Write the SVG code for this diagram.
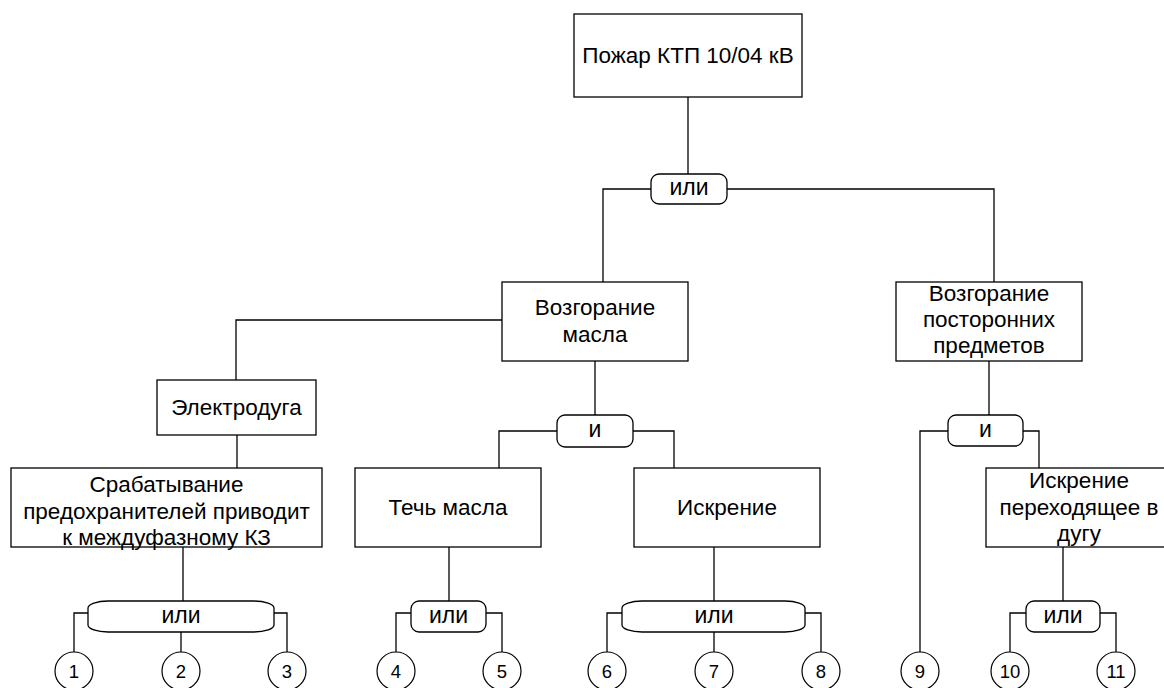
<svg xmlns="http://www.w3.org/2000/svg" width="1164" height="688" viewBox="0 0 1164 688">
<style>
.box{fill:#fff;stroke:#000;stroke-width:1.3}
.gate{fill:#fff;stroke:#000;stroke-width:1.3}
.conn path{fill:none;stroke:#000;stroke-width:1.3}
.c{fill:#fff;stroke:#000;stroke-width:1.2}
text{font-family:"Liberation Sans",Arial,sans-serif;font-size:22.5px;fill:#000;text-anchor:middle}
.g{font-size:23px}
.n{font-size:18.5px}
</style>
<rect width="1164" height="688" fill="#fff"/>
<g id="connectors" class="conn">
<path d="M688,97 V174"/>
<path d="M651,189 H603 V282"/>
<path d="M727,189 H994 V282"/>
<path d="M502,320 H236 V380"/>
<path d="M237,435 V468"/>
<path d="M595,361 V415"/>
<path d="M557,431 H499 V468"/>
<path d="M633,431 H674 V468"/>
<path d="M183,547 V601"/>
<path d="M88,613 H74 V652"/>
<path d="M181,632 V652"/>
<path d="M274,613 H287 V652"/>
<path d="M449,547 V601"/>
<path d="M411,613 H396 V652"/>
<path d="M486,613 H502 V652"/>
<path d="M714,547 V601"/>
<path d="M622,613 H607 V652"/>
<path d="M714,632 V652"/>
<path d="M805,613 H821 V652"/>
<path d="M989,361 V415"/>
<path d="M948,431 H920 V652"/>
<path d="M1023,431 H1039 V468"/>
<path d="M1063,547 V601"/>
<path d="M1026,613 H1010 V652"/>
<path d="M1100,613 H1116 V652"/>
</g>
<g id="top">
<rect class="box" x="574" y="14" width="228" height="83"/>
<text x="688" y="63">Пожар КТП 10/04 кВ</text>
</g>
<g id="gate-or-top">
<rect class="gate" x="651" y="174" width="76" height="30" rx="8"/>
<text class="g" x="689" y="195">или</text>
</g>
<g id="oil-fire">
<rect class="box" x="502" y="282" width="186" height="79"/>
<text x="595" y="315">Возгорание</text>
<text x="595" y="342">масла</text>
</g>
<g id="foreign-fire">
<rect class="box" x="896" y="282" width="186" height="79"/>
<text x="989" y="301">Возгорание</text>
<text x="989" y="327">посторонних</text>
<text x="989" y="353">предметов</text>
</g>
<g id="arc">
<rect class="box" x="157" y="380" width="159" height="55"/>
<text x="236.5" y="415">Электродуга</text>
</g>
<g id="fuse">
<rect class="box" x="11" y="468" width="311" height="79"/>
<text x="166.5" y="492">Срабатывание</text>
<text x="166.5" y="518.5">предохранителей приводит</text>
<text x="166.5" y="545">к междуфазному КЗ</text>
</g>
<g id="gate-and-oil">
<rect class="gate" x="557" y="415" width="76" height="32" rx="8"/>
<text class="g" x="595" y="437">и</text>
</g>
<g id="leak">
<rect class="box" x="355" y="468" width="186" height="79"/>
<text x="448" y="515">Течь масла</text>
</g>
<g id="spark">
<rect class="box" x="634" y="468" width="186" height="79"/>
<text x="727" y="515">Искрение</text>
</g>
<g id="gate-and-foreign">
<rect class="gate" x="948" y="415" width="75" height="31" rx="8"/>
<text class="g" x="985.5" y="437">и</text>
</g>
<g id="spark-arc">
<rect class="box" x="986" y="468" width="186" height="79"/>
<text x="1079" y="488">Искрение</text>
<text x="1079" y="515">переходящее в</text>
<text x="1079" y="541">дугу</text>
</g>
<g id="gate-or-a">
<rect class="gate" x="88" y="601" width="186" height="31" rx="20" ry="7"/>
<text class="g" x="181" y="623">или</text>
</g>
<g id="gate-or-b">
<rect class="gate" x="411" y="601" width="75" height="31" rx="8"/>
<text class="g" x="448.5" y="623">или</text>
</g>
<g id="gate-or-c">
<rect class="gate" x="622" y="601" width="183" height="31" rx="20" ry="7"/>
<text class="g" x="714" y="623">или</text>
</g>
<g id="gate-or-e">
<rect class="gate" x="1026" y="601" width="74" height="31" rx="8"/>
<text class="g" x="1063" y="623">или</text>
</g>
<g id="e1"><circle class="c" cx="74" cy="671" r="19"/><text class="n" x="74" y="678">1</text></g>
<g id="e2"><circle class="c" cx="181" cy="671" r="19"/><text class="n" x="181" y="678">2</text></g>
<g id="e3"><circle class="c" cx="287" cy="671" r="19"/><text class="n" x="287" y="678">3</text></g>
<g id="e4"><circle class="c" cx="396" cy="671" r="19"/><text class="n" x="396" y="678">4</text></g>
<g id="e5"><circle class="c" cx="502" cy="671" r="19"/><text class="n" x="502" y="678">5</text></g>
<g id="e6"><circle class="c" cx="607" cy="671" r="19"/><text class="n" x="607" y="678">6</text></g>
<g id="e7"><circle class="c" cx="714" cy="671" r="19"/><text class="n" x="714" y="678">7</text></g>
<g id="e8"><circle class="c" cx="821" cy="671" r="19"/><text class="n" x="821" y="678">8</text></g>
<g id="e9"><circle class="c" cx="920" cy="671" r="19"/><text class="n" x="920" y="678">9</text></g>
<g id="e10"><circle class="c" cx="1010" cy="671" r="19"/><text class="n" x="1010" y="678">10</text></g>
<g id="e11"><circle class="c" cx="1116" cy="671" r="19"/><text class="n" x="1116" y="678">11</text></g>
</svg>
